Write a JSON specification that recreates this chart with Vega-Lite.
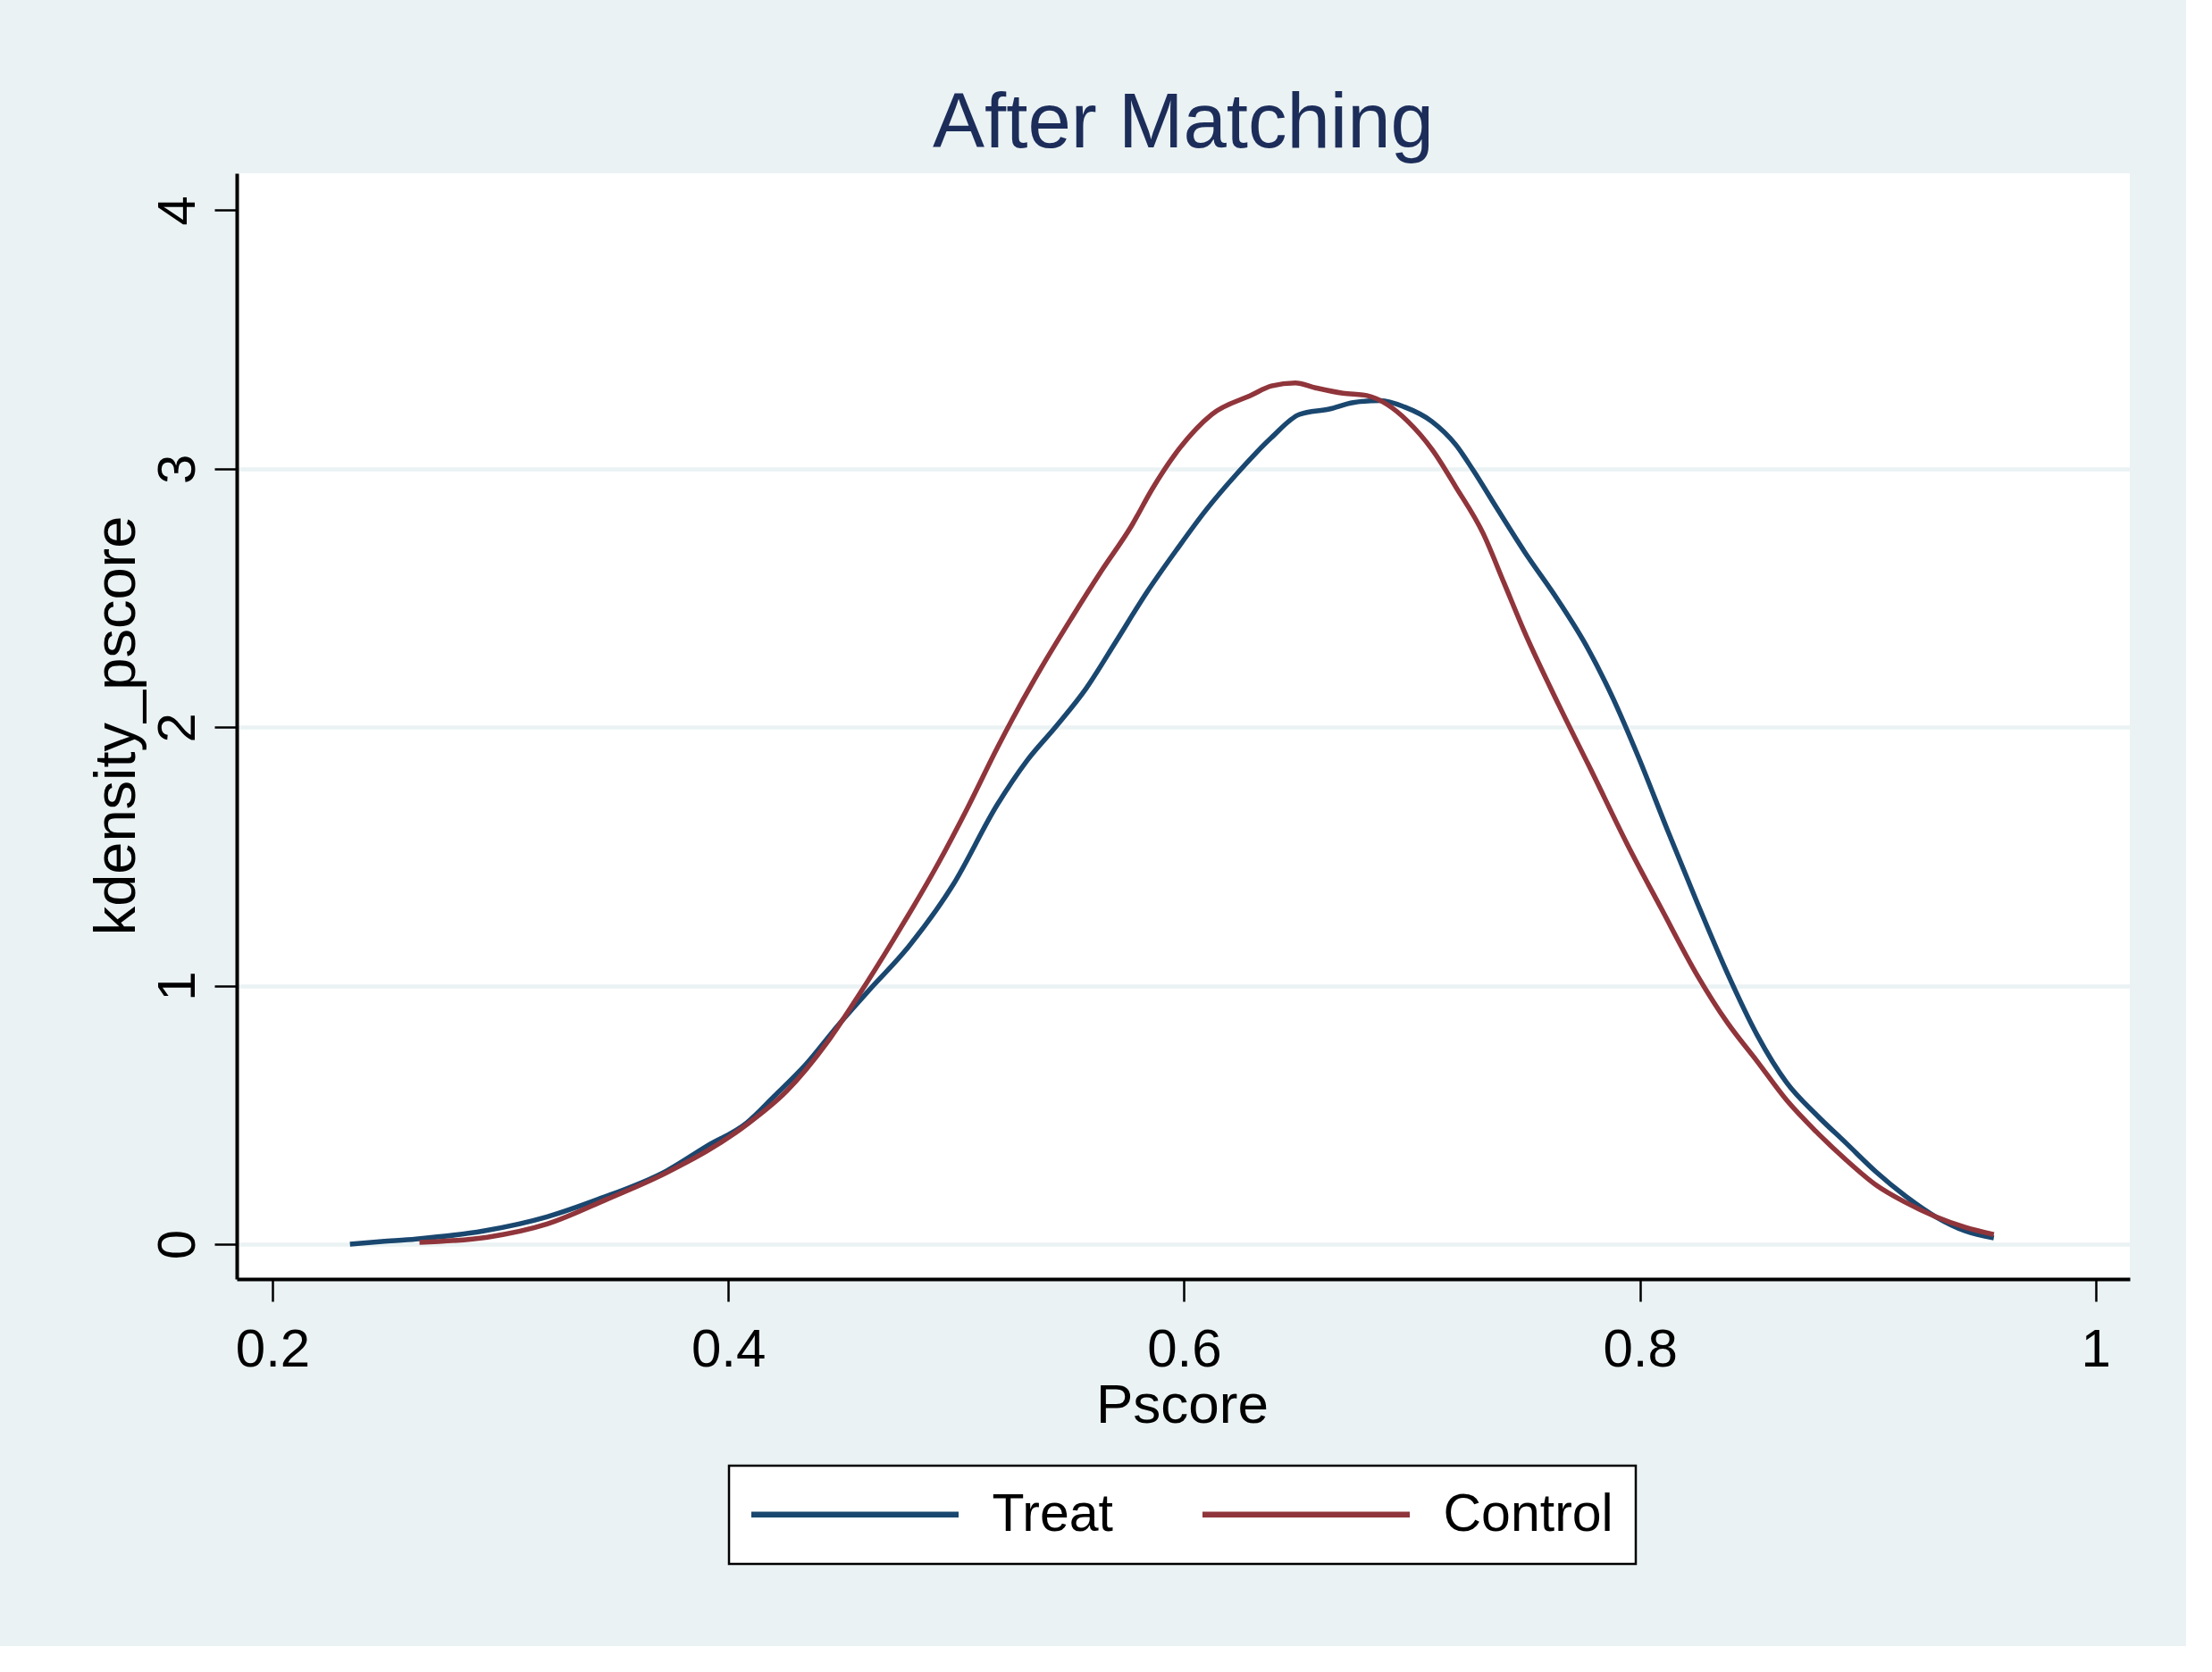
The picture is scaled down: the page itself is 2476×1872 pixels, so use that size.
{
  "$schema": "https://vega.github.io/schema/vega-lite/v6.json",
  "autosize": {"type": "none"},
  "width": 2119,
  "height": 1238,
  "padding": {"left": 265, "top": 194, "right": 63, "bottom": 411},
  "background": "#EAF2F3",
  "title": {
    "text": "After Matching",
    "fontSize": 87,
    "font": "Liberation Sans",
    "fontWeight": "normal",
    "color": "#1c2d5a",
    "anchor": "middle",
    "baseline": "alphabetic",
    "offset": -58
  },
  "datasets": {
    "curves": [
      {"g": "Treat", "x": 0.234, "y": 0.0},
      {"g": "Treat", "x": 0.248, "y": 0.01},
      {"g": "Treat", "x": 0.263, "y": 0.02},
      {"g": "Treat", "x": 0.2925, "y": 0.051},
      {"g": "Treat", "x": 0.3205, "y": 0.106},
      {"g": "Treat", "x": 0.343, "y": 0.174},
      {"g": "Treat", "x": 0.373, "y": 0.284},
      {"g": "Treat", "x": 0.3905, "y": 0.379},
      {"g": "Treat", "x": 0.408, "y": 0.469},
      {"g": "Treat", "x": 0.42, "y": 0.571},
      {"g": "Treat", "x": 0.434, "y": 0.695},
      {"g": "Treat", "x": 0.448, "y": 0.845},
      {"g": "Treat", "x": 0.461, "y": 0.975},
      {"g": "Treat", "x": 0.479, "y": 1.15},
      {"g": "Treat", "x": 0.4986, "y": 1.39},
      {"g": "Treat", "x": 0.518, "y": 1.7},
      {"g": "Treat", "x": 0.531, "y": 1.87},
      {"g": "Treat", "x": 0.544, "y": 2.005},
      {"g": "Treat", "x": 0.557, "y": 2.15},
      {"g": "Treat", "x": 0.57, "y": 2.33},
      {"g": "Treat", "x": 0.5835, "y": 2.52},
      {"g": "Treat", "x": 0.597, "y": 2.69},
      {"g": "Treat", "x": 0.6096, "y": 2.84},
      {"g": "Treat", "x": 0.6227, "y": 2.976},
      {"g": "Treat", "x": 0.6383, "y": 3.12},
      {"g": "Treat", "x": 0.6506, "y": 3.21},
      {"g": "Treat", "x": 0.6637, "y": 3.231},
      {"g": "Treat", "x": 0.6742, "y": 3.256},
      {"g": "Treat", "x": 0.6862, "y": 3.264},
      {"g": "Treat", "x": 0.6967, "y": 3.239},
      {"g": "Treat", "x": 0.7087, "y": 3.183},
      {"g": "Treat", "x": 0.7192, "y": 3.093},
      {"g": "Treat", "x": 0.7268, "y": 2.995},
      {"g": "Treat", "x": 0.7372, "y": 2.848},
      {"g": "Treat", "x": 0.7493, "y": 2.68},
      {"g": "Treat", "x": 0.7642, "y": 2.49},
      {"g": "Treat", "x": 0.7762, "y": 2.32},
      {"g": "Treat", "x": 0.7883, "y": 2.11},
      {"g": "Treat", "x": 0.7991, "y": 1.89},
      {"g": "Treat", "x": 0.8122, "y": 1.6},
      {"g": "Treat", "x": 0.8252, "y": 1.32},
      {"g": "Treat", "x": 0.8383, "y": 1.05},
      {"g": "Treat", "x": 0.8514, "y": 0.81},
      {"g": "Treat", "x": 0.8644, "y": 0.625},
      {"g": "Treat", "x": 0.8775, "y": 0.5},
      {"g": "Treat", "x": 0.8906, "y": 0.39},
      {"g": "Treat", "x": 0.9036, "y": 0.28},
      {"g": "Treat", "x": 0.9167, "y": 0.185},
      {"g": "Treat", "x": 0.9298, "y": 0.106},
      {"g": "Treat", "x": 0.9428, "y": 0.051},
      {"g": "Treat", "x": 0.9553, "y": 0.024},
      {"g": "Control", "x": 0.2645, "y": 0.007},
      {"g": "Control", "x": 0.2943, "y": 0.027},
      {"g": "Control", "x": 0.3205, "y": 0.078},
      {"g": "Control", "x": 0.3468, "y": 0.174},
      {"g": "Control", "x": 0.373, "y": 0.277},
      {"g": "Control", "x": 0.408, "y": 0.462},
      {"g": "Control", "x": 0.4256, "y": 0.592},
      {"g": "Control", "x": 0.443, "y": 0.776},
      {"g": "Control", "x": 0.457, "y": 0.96},
      {"g": "Control", "x": 0.4725, "y": 1.178},
      {"g": "Control", "x": 0.492, "y": 1.471},
      {"g": "Control", "x": 0.5051, "y": 1.69},
      {"g": "Control", "x": 0.5182, "y": 1.923},
      {"g": "Control", "x": 0.5247, "y": 2.032},
      {"g": "Control", "x": 0.5378, "y": 2.237},
      {"g": "Control", "x": 0.5508, "y": 2.425},
      {"g": "Control", "x": 0.5639, "y": 2.607},
      {"g": "Control", "x": 0.577, "y": 2.78},
      {"g": "Control", "x": 0.5859, "y": 2.92},
      {"g": "Control", "x": 0.5981, "y": 3.08},
      {"g": "Control", "x": 0.6121, "y": 3.21},
      {"g": "Control", "x": 0.6296, "y": 3.285},
      {"g": "Control", "x": 0.6383, "y": 3.32},
      {"g": "Control", "x": 0.6488, "y": 3.332},
      {"g": "Control", "x": 0.6577, "y": 3.313},
      {"g": "Control", "x": 0.6697, "y": 3.292},
      {"g": "Control", "x": 0.6802, "y": 3.283},
      {"g": "Control", "x": 0.6892, "y": 3.248},
      {"g": "Control", "x": 0.6982, "y": 3.183},
      {"g": "Control", "x": 0.7087, "y": 3.076},
      {"g": "Control", "x": 0.7192, "y": 2.93},
      {"g": "Control", "x": 0.7312, "y": 2.75},
      {"g": "Control", "x": 0.7403, "y": 2.56},
      {"g": "Control", "x": 0.7493, "y": 2.37},
      {"g": "Control", "x": 0.7642, "y": 2.09},
      {"g": "Control", "x": 0.7793, "y": 1.821},
      {"g": "Control", "x": 0.7943, "y": 1.55},
      {"g": "Control", "x": 0.8093, "y": 1.3},
      {"g": "Control", "x": 0.8252, "y": 1.04},
      {"g": "Control", "x": 0.8383, "y": 0.858},
      {"g": "Control", "x": 0.8514, "y": 0.708},
      {"g": "Control", "x": 0.8644, "y": 0.557},
      {"g": "Control", "x": 0.8775, "y": 0.434},
      {"g": "Control", "x": 0.8906, "y": 0.325},
      {"g": "Control", "x": 0.9036, "y": 0.229},
      {"g": "Control", "x": 0.9167, "y": 0.161},
      {"g": "Control", "x": 0.9298, "y": 0.106},
      {"g": "Control", "x": 0.9428, "y": 0.065},
      {"g": "Control", "x": 0.9553, "y": 0.037}
    ]
  },
  "data": {"name": "curves"},
  "mark": {"type": "line", "strokeWidth": 5.5, "interpolate": "monotone"},
  "encoding": {
    "x": {
      "field": "x",
      "type": "quantitative",
      "title": "Pscore",
      "scale": {"domain": [0.18432, 1.01497], "nice": false, "zero": false},
      "axis": {
        "values": [0.2, 0.4, 0.6, 0.8, 1],
        "format": "~g",
        "grid": false,
        "domainColor": "black",
        "domainWidth": 4,
        "tickColor": "black",
        "tickWidth": 2.5,
        "tickSize": 25,
        "labelFont": "Liberation Sans",
        "labelFontSize": 60,
        "labelColor": "black",
        "labelPadding": 25,
        "labelFlush": false,
        "labelOverlap": false,
        "titleFont": "Liberation Sans",
        "titleFontSize": 62,
        "titleFontWeight": "normal",
        "titleColor": "black",
        "titleBaseline": "alphabetic",
        "titleX": 1058,
        "titleY": 160
      }
    },
    "y": {
      "field": "y",
      "type": "quantitative",
      "title": "kdensity_pscore",
      "scale": {"domain": [-0.1348, 4.1431], "nice": false, "zero": false},
      "axis": {
        "values": [0, 1, 2, 3, 4],
        "format": "d",
        "grid": true,
        "gridColor": "#EAF2F3",
        "gridWidth": 4.5,
        "gridOpacity": {"condition": {"test": "datum.value === 4", "value": 0}, "value": 1},
        "domainColor": "black",
        "domainWidth": 4,
        "tickColor": "black",
        "tickWidth": 2.5,
        "tickSize": 25,
        "labelFont": "Liberation Sans",
        "labelFontSize": 60,
        "labelColor": "black",
        "labelAngle": 270,
        "labelAlign": "center",
        "labelBaseline": "alphabetic",
        "labelPadding": 23,
        "labelOverlap": false,
        "titleFont": "Liberation Sans",
        "titleFontSize": 65,
        "titleFontWeight": "normal",
        "titleColor": "black",
        "titleAngle": 270,
        "titleBaseline": "alphabetic",
        "titleX": -115,
        "titleY": 618
      }
    },
    "color": {
      "field": "g",
      "type": "nominal",
      "scale": {"domain": ["Treat", "Control"], "range": ["#1a476f", "#90353b"]},
      "legend": {
        "orient": "none",
        "legendX": 551,
        "legendY": 1447,
        "direction": "horizontal",
        "title": null,
        "fillColor": "white",
        "strokeColor": "black",
        "padding": 25,
        "symbolType": "M-5,0H5",
        "symbolSize": 2153,
        "symbolStrokeWidth": 6.5,
        "symbolOffset": 86.5,
        "labelOffset": 124,
        "labelFont": "Liberation Sans",
        "labelFontSize": 59,
        "labelColor": "black",
        "labelLimit": 1000,
        "labelBaseline": "middle",
        "columnPadding": 85
      }
    }
  },
  "config": {
    "view": {"fill": "white", "stroke": null},
    "legend": {"strokeWidth": 2.5}
  }
}
